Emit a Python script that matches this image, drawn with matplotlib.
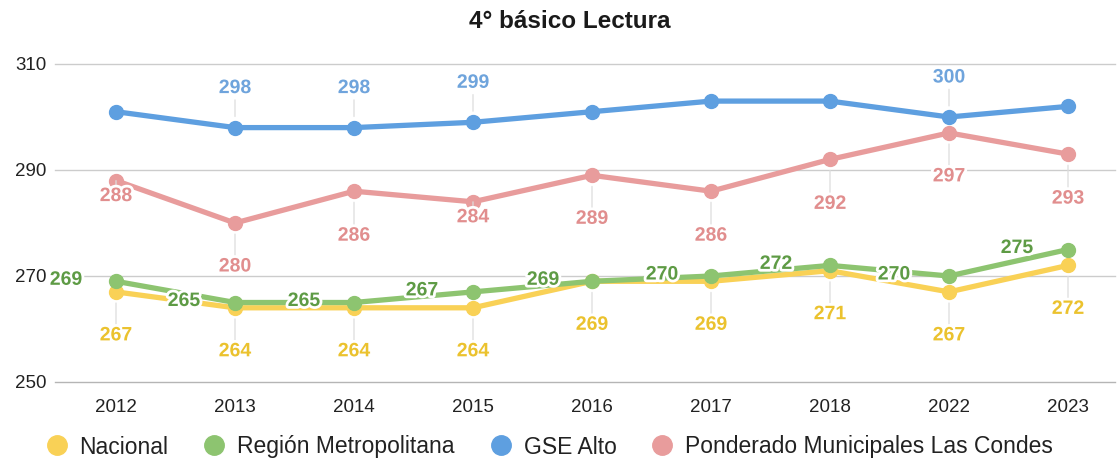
import matplotlib
matplotlib.use("Agg")
import matplotlib.pyplot as plt
from matplotlib.lines import Line2D
import matplotlib.patheffects as pe

plt.rcParams['font.family'] = ['Liberation Sans', 'DejaVu Sans']

years = ["2012", "2013", "2014", "2015", "2016", "2017", "2018", "2022", "2023"]
nacional = [267, 264, 264, 264, 269, 269, 271, 267, 272]
region_metropolitana = [269, 265, 265, 267, 269, 270, 272, 270, 275]
gse_alto = [301, 298, 298, 299, 301, 303, 303, 300, 302]
ponderado_lc = [288, 280, 286, 284, 289, 286, 292, 297, 293]
series_names = ["Nacional", "Región Metropolitana", "GSE Alto",
                "Ponderado Municipales Las Condes"]
yticks = [250, 270, 290, 310]
title = "4° básico Lectura"

# label visibility for GSE Alto (only some shown in reference)
gse_label_show = [False, True, True, True, False, False, False, True, False]

col_nac = "#F9D156"
col_rm = "#8DC470"
col_gse = "#5E9FE0"
col_pon = "#E89C9C"
txt_nac = "#EBC22E"
txt_rm = "#5E9B45"
txt_gse = "#6FA4DC"
txt_pon = "#E18E8E"

fig = plt.figure(figsize=(11.2, 4.67), dpi=100)
W, H = 1120, 467
ax = fig.add_axes([55 / W, 1 - 382 / H, (1115 - 55) / W, (382 - 64) / H])
x = list(range(len(years)))
px_per_unit = 119.0
ax.set_xlim((55 - 116) / px_per_unit, (1115 - 116) / px_per_unit)
ax.set_ylim(250, 310)

for s in ax.spines.values():
    s.set_visible(False)
ax.set_yticks(yticks)
ax.set_xticks(x)
ax.set_xticklabels(years)
ax.tick_params(axis='both', length=0, labelsize=13.5, colors="#222222")
ax.tick_params(axis='y', pad=6)
ax.tick_params(axis='x', pad=12)
for yv in yticks:
    ax.axhline(yv, color="#b5b5b5" if yv == 250 else "#cccccc", lw=1.0,
               zorder=0, clip_on=False)

lw = 3.8
ms = 10
ax.plot(x, nacional, color=col_nac, lw=lw, marker='o', ms=ms, zorder=2, clip_on=False)
ax.plot(x, region_metropolitana, color=col_rm, lw=lw, marker='o', ms=ms, zorder=3, clip_on=False)
ax.plot(x, ponderado_lc, color=col_pon, lw=lw, marker='o', ms=ms, zorder=3, clip_on=False)
ax.plot(x, gse_alto, color=col_gse, lw=lw, marker='o', ms=ms, zorder=4, clip_on=False)

halo = [pe.withStroke(linewidth=4, foreground="white")]
lead = dict(arrowstyle='-', color="#dddddd", lw=0.9, shrinkA=0, shrinkB=0)
fs = 14


def label(xi, yi, dx, dy, text, color, leader=True):
    ax.annotate(text, xy=(xi, yi), xytext=(dx, dy), textcoords='offset pixels',
                ha='center', va='center', fontsize=fs, fontweight='bold',
                color=color, zorder=6, path_effects=halo,
                arrowprops=(dict(lead, shrinkB=8) if leader else None),
                annotation_clip=False)


# Nacional labels below
for i, v in enumerate(nacional):
    label(i, v, 0, -44, str(v), txt_nac)
# Ponderado labels below
pon_dy = [-16, -44, -45, -16, -44, -45, -45, -44, -45]
for i, v in enumerate(ponderado_lc):
    label(i, v, 0, pon_dy[i], str(v), txt_pon)
# GSE labels above
for i, v in enumerate(gse_alto):
    if gse_label_show[i]:
        label(i, v, 0, 39, str(v), txt_gse)
# Region Metropolitana labels to the left on the line
rm_dx = [-50, -51, -50, -51, -49, -49, -54, -55, -51]
for i, v in enumerate(region_metropolitana):
    label(i, v, rm_dx[i], 1, str(v), txt_rm, leader=False)

fig.text(570 / W, 1 - 21 / H, title, ha='center', va='center', fontsize=17.5,
         fontweight='bold', color="#1a1a1a")

handles = [Line2D([], [], ls='none', marker='o', ms=14, color=c)
           for c in (col_nac, col_rm, col_gse, col_pon)]
fig.legend(handles, series_names, loc='center', bbox_to_anchor=(548 / W, 1 - 447 / H),
           ncol=4, frameon=False, fontsize=16.5, handletextpad=0.4,
           columnspacing=1.4, labelcolor="#222222", handlelength=1.2)

fig.savefig("out.png", dpi=100)
